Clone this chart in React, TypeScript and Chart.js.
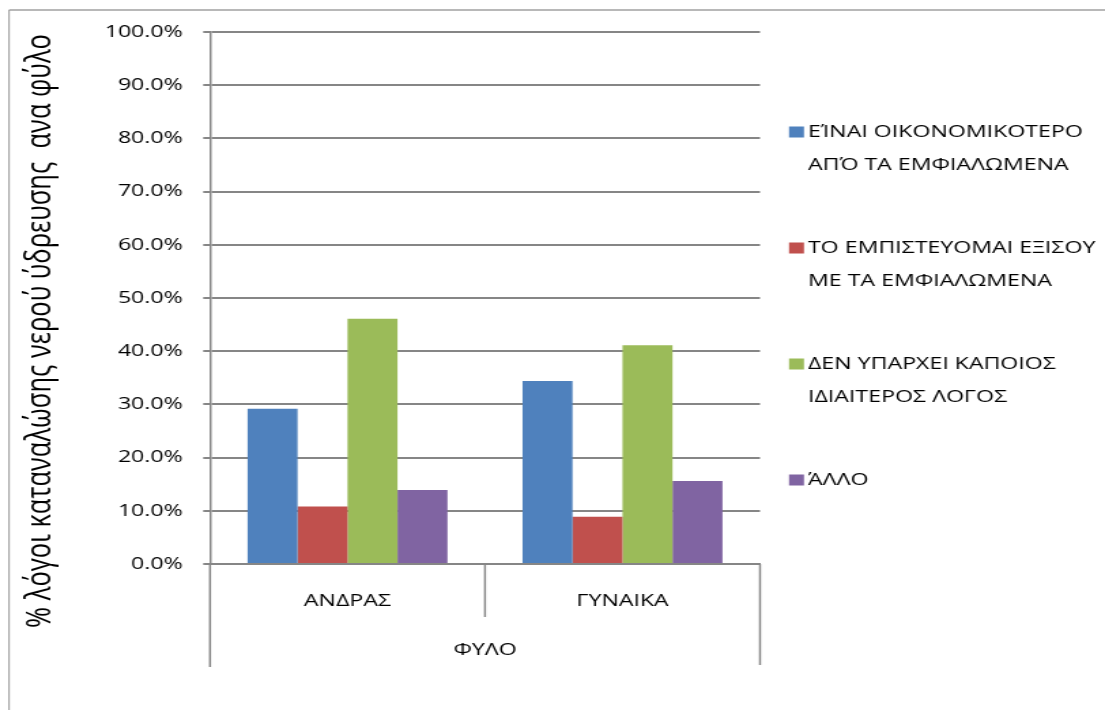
import React, { useEffect, useRef } from 'react';
import { Chart, registerables } from 'chart.js';

Chart.register(...registerables);

// ---- data ----
const categories = ['ΑΝΔΡΑΣ', 'ΓΥΝΑΙΚΑ'];
const groupLabel = 'ΦΥΛΟ';
const axisTitle = '% λόγοι καταναλώσης νερού ύδρευσης  ανα φύλο';
const seriesLabels = [
  ['ΕΊΝΑΙ ΟΙΚΟΝΟΜΙΚΟΤΕΡΟ', 'ΑΠΌ ΤΑ ΕΜΦΙΑΛΩΜΕΝΑ'],
  ['ΤΟ ΕΜΠΙΣΤΕΥΟΜΑΙ ΕΞΙΣΟΥ', 'ΜΕ ΤΑ ΕΜΦΙΑΛΩΜΕΝΑ'],
  ['ΔΕΝ ΥΠΑΡΧΕΙ ΚΑΠΟΙΟΣ', 'ΙΔΙΑΙΤΕΡΟΣ ΛΟΓΟΣ'],
  ['ΆΛΛΟ'],
];
const seriesColors = ['#4F81BD', '#C0504D', '#9BBB59', '#8064A2'];
const cheaper = [29.2, 34.4];
const trustEqually = [10.8, 8.9];
const noReason = [46.1, 41.1];
const other = [13.9, 15.6];
const yMin = 0;
const yMax = 100;
const yStep = 10;

// ---- layout ----
const W = 1105;
const H = 710;
const CW = 812;
const SX = W / CW;
const FONT = '"Open Sans", "Noto Sans", sans-serif';
const AXIS = '#868686';

const plotLeft = 210 / SX;
const plotRight = 760 / SX;
const plotTop = 32;
const plotBottom = 564;
const yAxisWidth = 140;

const decor = {
  id: 'decor',
  afterDraw(chart: any) {
    const { ctx, chartArea, scales } = chart;
    const { left, right, bottom } = chartArea;
    const x = scales.x;
    const line = (x1: number, y1: number, x2: number, y2: number) => {
      ctx.beginPath();
      ctx.moveTo(x1, y1);
      ctx.lineTo(x2, y2);
      ctx.stroke();
    };
    ctx.save();
    // category separators
    ctx.strokeStyle = AXIS;
    ctx.lineWidth = 2 / SX;
    const mid = (x.getPixelForValue(0) + x.getPixelForValue(1)) / 2;
    line(left, bottom, left, 667);
    line(mid, bottom, mid, 617);
    line(right, bottom, right, 665);

    // category labels
    ctx.fillStyle = '#000';
    ctx.font = `17px ${FONT}`;
    ctx.textAlign = 'center';
    ctx.textBaseline = 'middle';
    categories.forEach((c, i) => ctx.fillText(c, x.getPixelForValue(i), 601));
    ctx.fillText(groupLabel, (left + right) / 2, 650);

    // legend
    ctx.textAlign = 'left';
    chart.data.datasets.forEach((ds: any, i: number) => {
      const y0 = 132 + i * 116;
      ctx.fillStyle = ds.backgroundColor;
      ctx.fillRect(789 / SX, y0 - 5.5, 11, 11);
      ctx.fillStyle = '#000';
      seriesLabels[i].forEach((t, j) => ctx.fillText(t, 808 / SX, y0 + j * 33));
    });

    // y axis title
    ctx.save();
    ctx.translate(41 / SX, 331);
    ctx.rotate(-Math.PI / 2);
    ctx.font = `25.5px ${FONT}`;
    ctx.textAlign = 'center';
    ctx.fillText(axisTitle, 0, 0);
    ctx.restore();

    // outer chart border
    ctx.strokeStyle = '#a0a0a0';
    ctx.lineWidth = 1.5 / SX;
    line(9 / SX, H, 9 / SX, 10);
    ctx.lineWidth = 1.5;
    line(9 / SX, 10, CW, 10);
    ctx.restore();
  },
};

export default function App() {
  const ref = useRef<HTMLCanvasElement>(null);
  useEffect(() => {
    document.body.style.margin = '0';
    const chart = new Chart(ref.current as HTMLCanvasElement, {
      type: 'bar',
      data: {
        labels: categories,
        datasets: [cheaper, trustEqually, noReason, other].map((d, i) => ({
          label: seriesLabels[i].join(' '),
          data: d,
          backgroundColor: seriesColors[i],
          borderWidth: 0,
          categoryPercentage: 0.727,
          barPercentage: 1,
        })),
      },
      options: {
        animation: false,
        responsive: false,
        layout: {
          padding: {
            left: plotLeft - yAxisWidth,
            right: CW - plotRight,
            top: plotTop,
            bottom: H - plotBottom,
          },
        },
        plugins: {
          legend: { display: false },
          tooltip: { enabled: false },
        },
        scales: {
          x: {
            ticks: { display: false },
            grid: { display: false, drawTicks: false },
            border: { display: true, color: AXIS, width: 2 },
            afterFit: (s: any) => {
              s.height = 0;
            },
          },
          y: {
            min: yMin,
            max: yMax,
            ticks: {
              stepSize: yStep,
              callback: (v: any) => Number(v).toFixed(1) + '%',
              color: '#000',
              font: { family: FONT, size: 17 },
              padding: 15,
            },
            grid: { color: AXIS, lineWidth: 2, tickLength: 5 },
            border: { display: true, color: AXIS, width: 2 / SX },
            afterFit: (s: any) => {
              s.width = yAxisWidth;
            },
          },
        },
      },
      plugins: [decor],
    });
    return () => chart.destroy();
  }, []);
  return (
    <div style={{ position: 'absolute', left: 0, top: 0, width: W, height: H, overflow: 'hidden', background: '#fff' }}>
      <div style={{ width: CW, height: H, transform: `scaleX(${SX})`, transformOrigin: '0 0' }}>
        <canvas ref={ref} width={CW} height={H} style={{ display: 'block' }} />
      </div>
    </div>
  );
}
